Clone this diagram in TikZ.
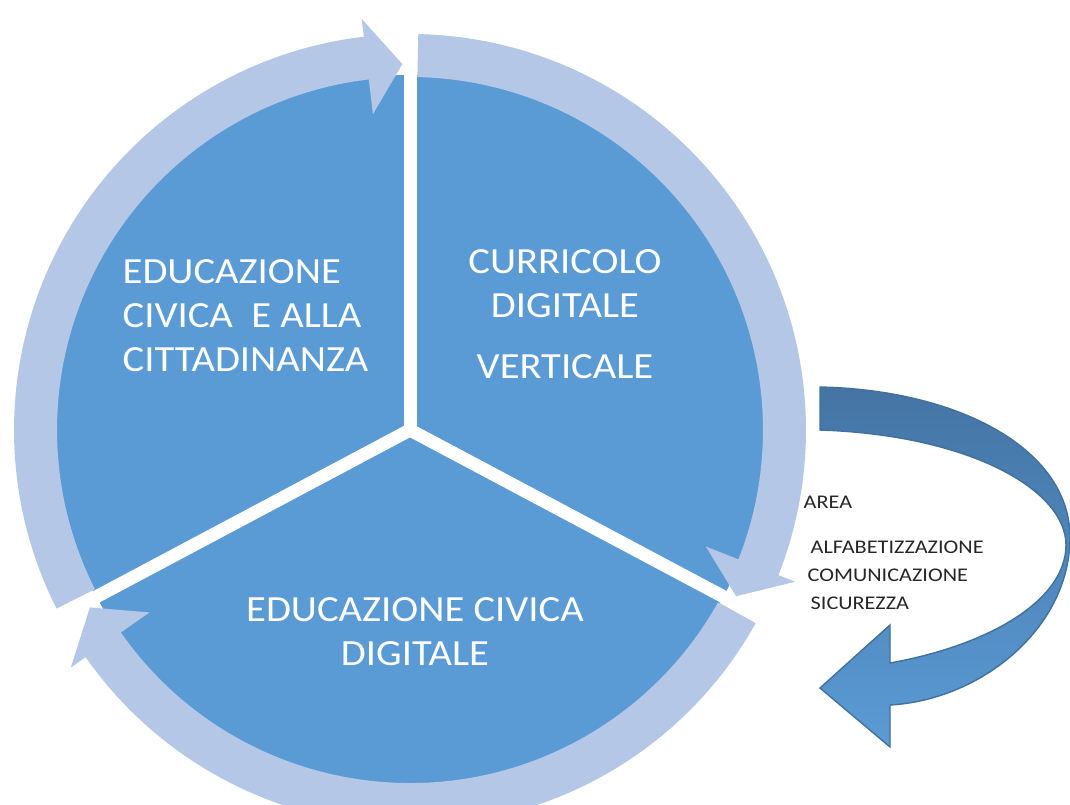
\documentclass[tikz,border=0pt]{standalone}
\usepackage{fontspec}
\usepackage{tikz}
\newfontfamily\lblfont[FakeStretch=1.1]{Carlito}
\newfontfamily\areafont[FakeStretch=1.15]{Carlito}
\definecolor{diskblue}{RGB}{91,155,213}
\definecolor{ringblue}{RGB}{180,199,231}
\definecolor{arrowtop}{RGB}{68,116,164}
\definecolor{arrowedge}{RGB}{65,113,156}

\begin{document}
\begin{tikzpicture}[
		ring/.style={fill=ringblue},
		split/.style={white,line width=0.13cm,line cap=round},
		lbl/.style={text=white,inner sep=0,font=\lblfont\fontsize{10.5}{12.5}\selectfont}
	]
		\useasboundingbox (0,0) rectangle (10.70,-8.05);
		\coordinate (c) at (4.10,-4.30);
		
		\fill[diskblue] (c) circle (3.55);
		\draw[split] (c) -- +(90:3.6);
		\draw[split] (c) -- +(208:3.6);
		\draw[split] (c) -- +(332:3.6);
		
		\begin{scope}[shift={(c)}]
		\fill[ring] (206.8:3.96) arc[start angle=206.8,end angle=96.7,radius=3.96] -- (96.7:4.14) -- (91.2:3.66) -- (96.7:3.18) -- (96.7:3.53) arc[start angle=96.7,end angle=206.8,radius=3.53] -- cycle;
		\fill[ring] (88.8:3.96) arc[start angle=88.8,end angle=-21.5,radius=3.96] -- (-21.5:4.14) -- (-27:3.66) -- (-21.5:3.18) -- (-21.5:3.53) arc[start angle=-21.5,end angle=88.8,radius=3.53] -- cycle;
		\fill[ring] (-29.2:3.96) arc[start angle=-29.2,end angle=-145,radius=3.96] -- (-145:4.14) -- (-151:3.66) -- (-145:3.18) -- (-145:3.53) arc[start angle=-145,end angle=-29.2,radius=3.53] -- cycle;
		\end{scope}
		
		\shadedraw[top color=arrowtop,bottom color=diskblue,draw=arrowedge,line width=0.4pt]
			(8.20,-3.87) .. controls (9.6,-3.9) and (10.72,-4.5) .. (10.70,-5.40)
			.. controls (10.68,-6.3) and (9.8,-7.0) .. (8.90,-7.05)
			-- (8.90,-7.47) -- (8.20,-6.88) -- (8.90,-6.25) -- (8.90,-6.63)
			.. controls (9.9,-6.45) and (10.66,-6.0) .. (10.66,-5.45)
			.. controls (10.66,-4.9) and (9.7,-4.35) .. (8.20,-4.30) -- cycle;
		
		\node[lbl,align=left,anchor=west] (civica) at (1.22,-3.16) {EDUCAZIONE\\CIVICA\ \ E ALLA\\CITTADINANZA};
		\node[lbl,align=center] (curricolo) at (5.65,-3.14) {CURRICOLO\\DIGITALE\\[5pt]VERTICALE};
		\node[lbl,align=center] (digitale) at (4.15,-6.32) {EDUCAZIONE CIVICA\\DIGITALE};
		\node[text=black!85,inner sep=0,align=left,anchor=west,font=\areafont\fontsize{5.5}{8}\selectfont] (area) at (8.03,-5.53) {AREA\\[4.8pt]\hspace{0.7mm}ALFABETIZZAZIONE\\\hspace{0.4mm}COMUNICAZIONE\\\hspace{0.7mm}SICUREZZA};
	\end{tikzpicture}
\end{document}
